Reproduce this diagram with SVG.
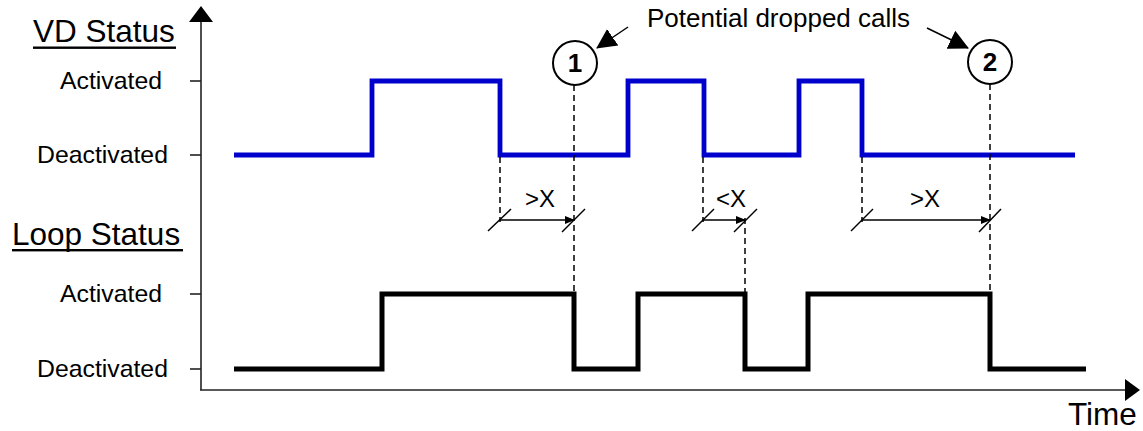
<svg xmlns="http://www.w3.org/2000/svg" width="1143" height="431" viewBox="0 0 1143 431">
<style>
text{font-family:"Liberation Sans",Arial,sans-serif;fill:#000}
.axis{stroke:#222;stroke-width:1.6;fill:none}
.vd{stroke:#0000CC;stroke-width:4.8;fill:none;stroke-linejoin:miter}
.loop{stroke:#000;stroke-width:5;fill:none;stroke-linejoin:miter}
.dash{stroke:#000;stroke-width:1.5;stroke-dasharray:6,4;fill:none}
.dim{stroke:#000;stroke-width:1.5;fill:none}
.lbl{font-size:24.8px}
.ttl{font-size:31.5px}
.dx{font-size:24px;text-anchor:middle}
.num{font-size:26px;font-weight:bold;text-anchor:middle}
.circ{fill:#fff;stroke:#000;stroke-width:2}
</style>
<defs>
<marker id="ah" markerWidth="10" markerHeight="10" refX="9" refY="5" orient="auto" markerUnits="userSpaceOnUse" viewBox="0 0 10 10">
<path d="M0,1 L10,5 L0,9 Z" fill="#000"/>
</marker>
<marker id="bigah" markerWidth="20" markerHeight="22" refX="19" refY="11" orient="auto" markerUnits="userSpaceOnUse" viewBox="0 0 20 22">
<path d="M0,1 L20,11 L0,21 Z" fill="#000"/>
</marker>
</defs>

<g id="axes">
<line class="axis" x1="201" y1="20" x2="201" y2="390"/>
<line class="axis" x1="200" y1="390" x2="1127" y2="390"/>
<path d="M201,6 L213,22 L189,22 Z" fill="#000"/>
<path d="M1140,390 L1125,379 L1125,401 Z" fill="#000"/>
<line class="axis" x1="190" y1="81" x2="201" y2="81"/>
<line class="axis" x1="190" y1="155" x2="201" y2="155"/>
<line class="axis" x1="190" y1="294" x2="201" y2="294"/>
<line class="axis" x1="190" y1="369" x2="201" y2="369"/>
<text x="1068" y="425" style="font-size:31.5px">Time</text>
</g>

<g id="vd-labels">
<text class="ttl" x="33" y="42">VD Status</text>
<rect x="33" y="46.5" width="143" height="2.4" fill="#000"/>
<text class="lbl" x="60" y="89">Activated</text>
<text class="lbl" x="37" y="163">Deactivated</text>
</g>

<g id="loop-labels">
<text class="ttl" x="12" y="245">Loop Status</text>
<rect x="12" y="249" width="171" height="2.4" fill="#000"/>
<text class="lbl" x="60" y="302">Activated</text>
<text class="lbl" x="37" y="377">Deactivated</text>
</g>

<g id="vd-signal">
<path class="vd" d="M234,155 H372 V81 H500 V155 H628 V81 H704 V155 H799 V81 H862 V155 H1075"/>
</g>

<g id="loop-signal">
<path class="loop" d="M234,369 H382 V294 H574 V369 H638 V294 H745 V369 H808 V294 H990 V369 H1086"/>
</g>

<g id="connectors">
<line class="dash" x1="500" y1="157" x2="500" y2="222"/>
<line class="dash" x1="574" y1="85" x2="574" y2="294"/>
<line class="dash" x1="703" y1="157" x2="703" y2="222"/>
<line class="dash" x1="745" y1="218" x2="745" y2="294"/>
<line class="dash" x1="862" y1="157" x2="862" y2="222"/>
<line class="dash" x1="990" y1="84" x2="990" y2="294"/>

<line class="dim" x1="500" y1="220" x2="574" y2="220" marker-end="url(#ah)"/>
<line class="dim" x1="488" y1="231" x2="511" y2="209"/>
<line class="dim" x1="562" y1="232" x2="585" y2="209"/>

<line class="dim" x1="703" y1="220" x2="745" y2="220" marker-end="url(#ah)"/>
<line class="dim" x1="692" y1="231" x2="714" y2="209"/>
<line class="dim" x1="734" y1="232" x2="757" y2="209"/>

<line class="dim" x1="862" y1="220" x2="990" y2="220" marker-end="url(#ah)"/>
<line class="dim" x1="851" y1="231" x2="873" y2="209"/>
<line class="dim" x1="979" y1="232" x2="1001" y2="209"/>

<line class="dim" x1="628" y1="27" x2="597" y2="48" marker-end="url(#bigah)"/>
<line class="dim" x1="927" y1="28" x2="968" y2="48" marker-end="url(#bigah)"/>
</g>

<g id="dim-labels">
<text class="dx" x="540" y="207">&gt;X</text>
<text class="dx" x="731" y="207">&lt;X</text>
<text class="dx" x="925" y="207">&gt;X</text>
</g>

<g id="callout-text">
<text x="647" y="27" style="font-size:26px">Potential dropped calls</text>
</g>

<g id="marker-1">
<circle class="circ" cx="575" cy="63" r="22"/>
<text class="num" x="575" y="72">1</text>
</g>

<g id="marker-2">
<circle class="circ" cx="990" cy="62" r="22"/>
<text class="num" x="990" y="71">2</text>
</g>
</svg>
